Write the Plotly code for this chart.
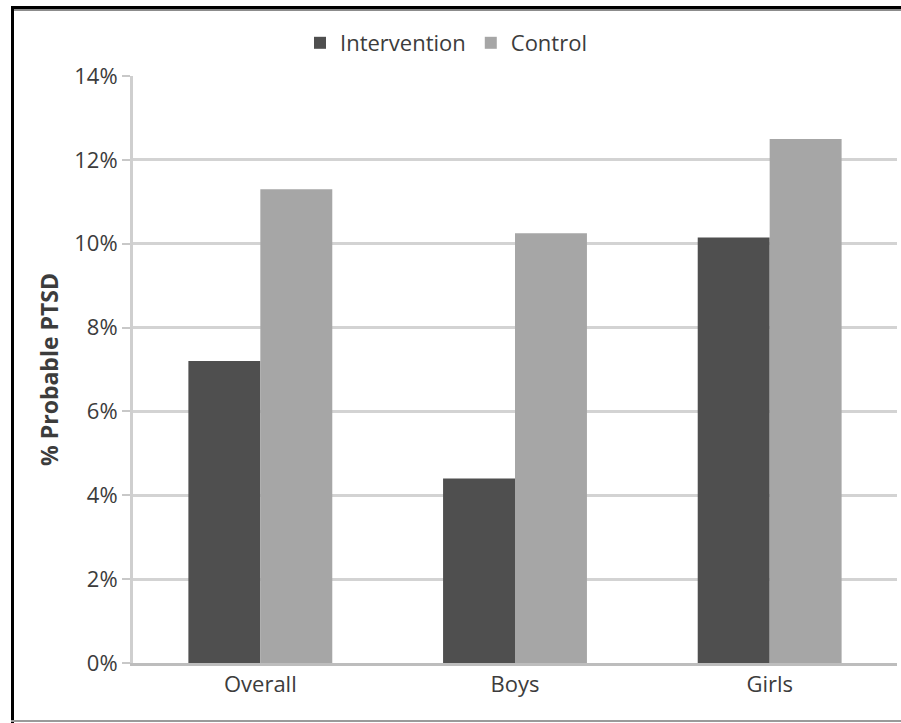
import plotly.graph_objects as go

# Share of children with probable PTSD, by group
categories = ["Overall", "Boys", "Girls"]
intervention = [7.2, 4.4, 10.15]
control = [11.3, 10.25, 12.5]
y_ticks = [0, 2, 4, 6, 8, 10, 12, 14]
y_tick_labels = [f"{v}%" for v in y_ticks]

W, H = 901, 723
L, R, T, B = 133, 4, 76, 60
pw, ph = W - L - R, H - T - B

def px_x(p):
    return (p - L) / pw

def px_y(q):
    return (H - B - q) / ph

font = "Open Sans, Liberation Sans, sans-serif"
txt = "#3c3c3c"
fs = 22

fig = go.Figure()
fig.add_trace(go.Bar(name="Intervention", x=categories, y=intervention,
                     marker=dict(color="#4f4f4f", line=dict(width=0))))
fig.add_trace(go.Bar(name="Control", x=categories, y=control,
                     marker=dict(color="#a6a6a6", line=dict(width=0))))

fig.update_layout(
    width=W, height=H,
    margin=dict(l=L, r=R, t=T, b=B),
    paper_bgcolor="white", plot_bgcolor="white",
    barmode="group", bargap=0.435, bargroupgap=0,
    font=dict(family=font, size=fs, color=txt),
    legend=dict(orientation="h", x=px_x(300), xanchor="left",
                y=px_y(43), yanchor="middle",
                font=dict(size=fs, color=txt), itemwidth=30,
                traceorder="normal"),
    xaxis=dict(showgrid=False, showline=True, linecolor="#bdbdbd", linewidth=3,
               ticks="", tickfont=dict(size=fs, color=txt)),
    yaxis=dict(range=[0, 14], tickvals=y_ticks, ticktext=y_tick_labels,
               showgrid=True, gridcolor="#d3d3d3", gridwidth=3,
               showline=True, linecolor="#cfcfcf", linewidth=3,
               ticks="outside", ticklen=8, tickcolor="#c8c8c8", tickwidth=2,
               zeroline=False,
               tickfont=dict(size=fs, color=txt),
               title=dict(text="<b>% Probable PTSD</b>", standoff=10,
                          font=dict(size=23, color=txt))),
    showlegend=True,
)

# Frame around the figure
fig.add_shape(type="line", xref="paper", yref="paper",
              x0=px_x(11), x1=px_x(W), y0=px_y(7.5), y1=px_y(7.5),
              line=dict(color="black", width=3))
fig.add_shape(type="line", xref="paper", yref="paper",
              x0=px_x(12.5), x1=px_x(12.5), y0=px_y(6), y1=px_y(723),
              line=dict(color="black", width=3))
fig.add_shape(type="line", xref="paper", yref="paper",
              x0=px_x(11), x1=px_x(W), y0=px_y(721), y1=px_y(721),
              line=dict(color="#9a9a9a", width=2))
fig.add_shape(type="line", xref="paper", yref="paper",
              x0=px_x(14), x1=px_x(W), y0=px_y(10), y1=px_y(10),
              line=dict(color="#8c8c8c", width=2))

fig.write_html("out.html")
